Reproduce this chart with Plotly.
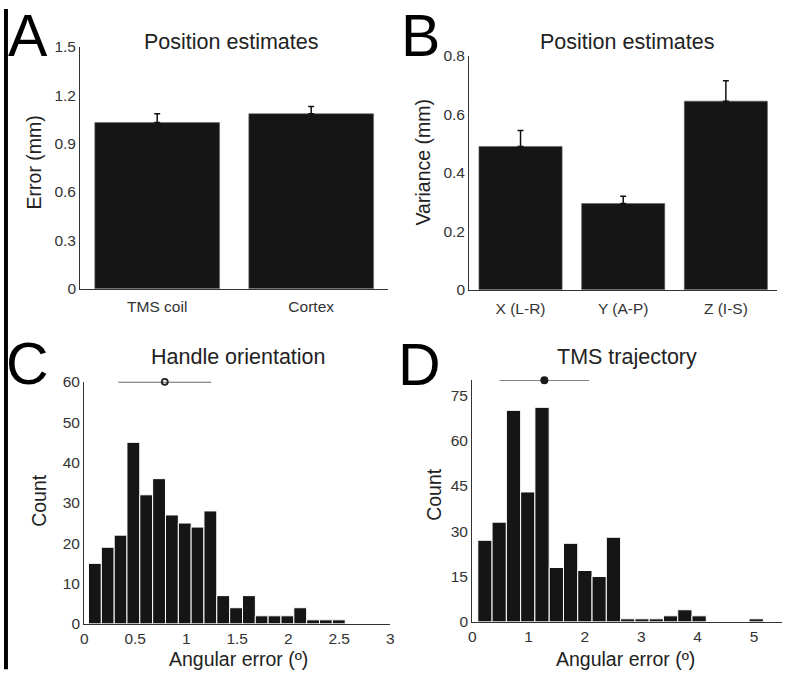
import plotly.graph_objects as go

# ---------- data ----------
a_categories = ["TMS coil", "Cortex"]
a_values = [1.03, 1.085]
a_errors = [0.055, 0.045]

b_categories = ["X (L-R)", "Y (A-P)", "Z (I-S)"]
b_values = [0.49, 0.295, 0.645]
b_errors = [0.055, 0.025, 0.07]

c_bin_centers = [0.105, 0.231, 0.357, 0.482, 0.608, 0.734, 0.860, 0.986, 1.111, 1.237,
                 1.363, 1.489, 1.615, 1.740, 1.866, 1.992, 2.118, 2.244, 2.370, 2.496]
c_counts = [15, 19, 22, 45, 32, 36, 27, 25, 24, 28, 7, 4, 7, 2, 2, 2, 4, 1, 1, 1]
c_bin_width = 0.1258
c_mean = 0.79
c_sd = 0.455
c_marker_level = 60

d_bin_centers = [0.226, 0.479, 0.733, 0.986, 1.239, 1.493, 1.746, 1.999, 2.253, 2.506,
                 2.759, 3.013, 3.266, 3.519, 3.773, 4.026, 4.279, 4.533, 4.786, 5.039]
d_counts = [27, 33, 70, 43, 71, 18, 26, 17, 15, 28, 1, 1, 1, 2, 4, 2, 0, 0, 0, 1]
d_bin_width = 0.2533
d_mean = 1.28
d_sd = 0.795
d_marker_level = 80

c_xticks = [0, 0.5, 1, 1.5, 2, 2.5, 3]
c_yticks = [0, 10, 20, 30, 40, 50, 60]
d_xticks = [0, 1, 2, 3, 4, 5]
d_yticks = [0, 15, 30, 45, 60, 75]
a_yticks = [0, 0.3, 0.6, 0.9, 1.2, 1.5]
b_yticks = [0, 0.2, 0.4, 0.6, 0.8]

# ---------- layout helpers ----------
W, H = 800, 682
FONT = "Liberation Sans, Arial, Helvetica, sans-serif"
BAR = "#151515"
AX = "#333333"
TICKFONT = dict(family=FONT, size=15.5, color="#333333")


def fx(x):
    # target picture x -> figure x
    return (x - 3.8) / 0.99


def fy(y):
    # target picture y -> figure y
    return (y - 10.4) / 0.971


def px(x):
    return min(max(fx(x) / W, 0), 1)


def py(y):
    return min(max(1 - fy(y) / H, 0), 1)


def xd(x0, x1):
    return [px(x0), px(x1)]


def yd(top, bottom):
    return [py(bottom), py(top)]


fig = go.Figure()

# Panel A
fig.add_trace(go.Bar(
    x=a_categories, y=a_values, marker=dict(color=BAR, line=dict(color="#666", width=0.6)),
    error_y=dict(type="data", symmetric=False, array=a_errors, arrayminus=[0] * len(a_errors),
                 color="#111", thickness=1.5, width=3),
    xaxis="x", yaxis="y", showlegend=False))

# Panel B
fig.add_trace(go.Bar(
    x=b_categories, y=b_values, marker=dict(color=BAR, line=dict(color="#666", width=0.6)),
    error_y=dict(type="data", symmetric=False, array=b_errors, arrayminus=[0] * len(b_errors),
                 color="#111", thickness=1.5, width=3),
    xaxis="x2", yaxis="y2", showlegend=False))

# Panel C
fig.add_trace(go.Bar(
    x=c_bin_centers, y=c_counts, width=[c_bin_width] * len(c_counts),
    marker=dict(color=BAR, line=dict(color="white", width=1)),
    xaxis="x3", yaxis="y3", showlegend=False))
fig.add_trace(go.Scatter(
    x=[c_mean], y=[c_marker_level], mode="markers",
    marker=dict(symbol="circle-open", size=6, color="#222", line=dict(width=1.8, color="#222")),
    error_x=dict(type="data", array=[c_sd], color="#222", thickness=1.4, width=0),
    cliponaxis=False, xaxis="x3", yaxis="y3", showlegend=False))

# Panel D
fig.add_trace(go.Bar(
    x=d_bin_centers, y=d_counts, width=[d_bin_width] * len(d_counts),
    marker=dict(color=BAR, line=dict(color="white", width=1)),
    xaxis="x4", yaxis="y4", showlegend=False))
fig.add_trace(go.Scatter(
    x=[d_mean], y=[d_marker_level], mode="markers",
    marker=dict(symbol="circle", size=8, color="#1a1a1a"),
    error_x=dict(type="data", array=[d_sd], color="#222", thickness=1.4, width=0),
    cliponaxis=False, xaxis="x4", yaxis="y4", showlegend=False))

common = dict(showline=True, linecolor=AX, linewidth=1.2, showgrid=False, zeroline=False,
              ticks="", tickfont=TICKFONT, fixedrange=True)

fig.update_layout(
    width=W, height=H, margin=dict(l=0, r=0, t=0, b=0),
    paper_bgcolor="white", plot_bgcolor="white", bargap=0.19,
    xaxis=dict(domain=xd(80, 388), range=[-0.5, 1.5], anchor="y", ticklabelstandoff=4, **common),
    yaxis=dict(domain=yd(48, 289), range=[0, 1.5], tickvals=a_yticks,
               ticktext=["0", "0.3", "0.6", "0.9", "1.2", "1.5"], anchor="x", **common),
    xaxis2=dict(domain=xd(469, 777), range=[-0.5, 2.5], anchor="y2", ticklabelstandoff=5, **common),
    yaxis2=dict(domain=yd(57, 290), range=[0, 0.8], tickvals=b_yticks,
                ticktext=["0", "0.2", "0.4", "0.6", "0.8"], anchor="x2", **common),
    xaxis3=dict(domain=xd(84, 390), range=[0, 3], tickvals=c_xticks,
                ticktext=["0", "0.5", "1", "1.5", "2", "2.5", "3"], anchor="y3", **common),
    yaxis3=dict(domain=yd(381.7, 622.7), range=[0, 60], tickvals=c_yticks, anchor="x3", **common),
    xaxis4=dict(domain=xd(472, 782), range=[0, 5.5], tickvals=d_xticks, anchor="y4", **common),
    yaxis4=dict(domain=yd(380, 620.7), range=[0, 80], tickvals=d_yticks, anchor="x4", **common),
)

# left vertical black rule
fig.add_shape(type="rect", xref="paper", yref="paper", x0=0, x1=4 / W,
              y0=py(668), y1=1, fillcolor="black", line=dict(width=0))


def txt(x, y, s, size, color="#222", angle=0):
    fig.add_annotation(x=px(x), y=py(y), xref="paper", yref="paper", text=s,
                       showarrow=False, xanchor="center", yanchor="middle", textangle=angle,
                       font=dict(family=FONT, size=size, color=color))


# panel letters
txt(28, 37, "A", 59, "black")
txt(420, 37, "B", 59, "black")
txt(27, 364, "C", 59, "black")
txt(419, 365, "D", 59, "black")

# titles
txt(231, 43, "Position estimates", 21.5)
txt(627, 43, "Position estimates", 21.5)
txt(238, 357, "Handle orientation", 21.5)
txt(627, 357, "TMS trajectory", 21.5)

# axis titles
txt(34, 163, "Error (mm)", 19.5, angle=-90)
txt(423, 163, "Variance (mm)", 19.5, angle=-90)
txt(38, 500, "Count", 19.5, angle=-90)
txt(433, 494, "Count", 19.5, angle=-90)
txt(238, 658, "Angular error (º)", 19.5)
txt(625, 658, "Angular error (º)", 19.5)

fig.write_html("out.html", config={"displayModeBar": False},
               post_script="document.body.style.margin='0px';document.body.style.padding='0px';")
